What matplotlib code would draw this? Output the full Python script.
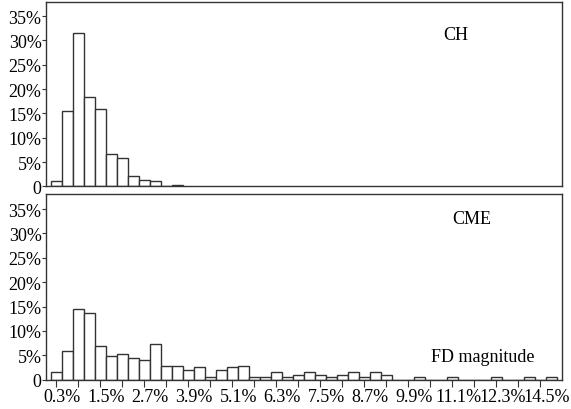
import numpy as np
import matplotlib.pyplot as plt
from matplotlib.transforms import ScaledTranslation

plt.rcParams['font.family'] = ['Liberation Serif', 'DejaVu Serif']

# Share of events (%) per 0.3 % FD-magnitude bin
ch_values = [1.2, 15.4, 31.6, 18.4, 16.0, 6.6, 5.9, 2.2, 1.4, 1.2, 0, 0.3]
cme_values = [1.5, 5.8, 14.5, 13.7, 6.9, 4.9, 5.3, 4.4, 4.0, 7.4,
              2.9, 2.9, 1.9, 2.5, 0.5, 2.0, 2.5, 2.9, 0.5, 0.5,
              1.5, 0.5, 1.0, 1.5, 1.0, 0.5, 1.0, 1.5, 0.5, 1.5,
              1.0, 0, 0, 0.5, 0, 0, 0.5, 0, 0, 0,
              0.5, 0, 0, 0.5, 0, 0.5]
bin_width = 0.3
x_ticklabels = ['0.3%', '1.5%', '2.7%', '3.9%', '5.1%', '6.3%', '7.5%',
                '8.7%', '9.9%', '11.1%', '12.3%', '14.5%']
y_ticks = [0, 5, 10, 15, 20, 25, 30, 35]
y_ticklabels = ['0', '5%', '10%', '15%', '20%', '25%', '30%', '35%']

fig = plt.figure(figsize=(5.71, 4.10), dpi=100)
ax_top = fig.add_axes([0.080, 0.5427, 0.904, 0.449])
ax_bot = fig.add_axes([0.080, 0.0715, 0.904, 0.453])

edge = '#333333'
fs = 13


def draw(ax, values, ymax):
    centers = bin_width * np.arange(1, len(values) + 1)
    ax.bar(centers, values, width=bin_width, color='white',
           edgecolor=edge, linewidth=1.0)
    ax.set_xlim(0.014, 14.09)
    ax.set_ylim(0, ymax)
    ax.set_yticks(y_ticks)
    ax.set_yticklabels(y_ticklabels, fontsize=fs)
    ax.tick_params(axis='y', direction='out', length=3, width=0.8,
                   color=edge, pad=0)
    for s in ax.spines.values():
        s.set_color(edge)
        s.set_linewidth(1.0)


def label_px(x, y, s):
    # position given in pixels from the top-left of the figure
    fig.text(x / 571, 1 - y / 410, s, fontsize=fs, ha='center', va='center')


draw(ax_top, ch_values, 37.8)
ax_top.set_xticks([])

draw(ax_bot, cme_values, 38.1)
major = 0.3 + 1.2 * np.arange(len(x_ticklabels))
ax_bot.set_xticks(major)
ax_bot.set_xticklabels(x_ticklabels, fontsize=fs)
ax_bot.set_xticks(major[:-1] + 0.6, minor=True)
ax_bot.tick_params(axis='x', which='both', direction='out', length=5,
                   width=0.8, color=edge, pad=1)
shift = ScaledTranslation(6 / 100, 0, fig.dpi_scale_trans)
for lab in ax_bot.get_xticklabels():
    lab.set_transform(lab.get_transform() + shift)

label_px(456, 36, 'CH')
label_px(472, 220, 'CME')
label_px(483, 358, 'FD magnitude')

fig.savefig('out.png', dpi=100)
